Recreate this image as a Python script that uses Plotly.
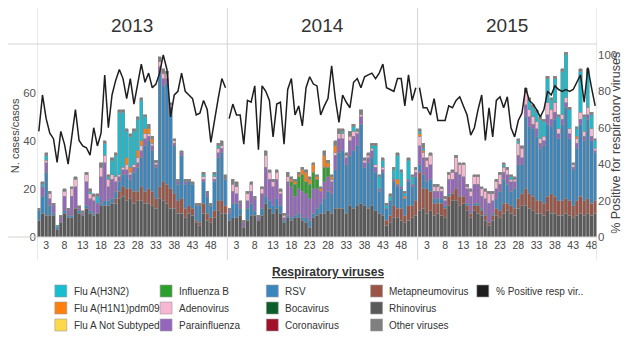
import plotly.graph_objects as go

# ── DATA ──────────────────────────────────────────────────────────────────────
YEARS = ['2013', '2014', '2015']
WEEKS_PER_YEAR = [52, 52, 49]
WEEK_TICKS = [3, 8, 13, 18, 23, 28, 33, 38, 43, 48]

# weekly case counts, 2013 (52) + 2014 (52) + 2015 (49)
rhino = [
    7, 10, 9, 9, 9, 3, 6, 10, 8, 8, 12, 10, 9, 12, 10, 9, 10, 13, 13, 13, 14, 14, 16, 17, 15, 16,
    14, 15, 15, 14, 14, 13, 12, 16, 15, 14, 12, 12, 10, 10, 8, 10, 9, 6, 5, 10, 7, 6, 8, 11, 10, 10,
    7, 8, 8, 9, 4, 7, 9, 9, 7, 9, 14, 12, 10, 12, 10, 6, 8, 7, 8, 8, 7, 6, 4, 8, 9, 10,
    10, 11, 10, 12, 12, 12, 10, 13, 12, 13, 14, 13, 12, 13, 11, 10, 9, 5, 6, 8, 8, 7, 6, 7, 8, 9,
    11, 12, 10, 11, 9, 10, 9, 8, 13, 15, 15, 13, 14, 11, 8, 11, 10, 9, 7, 5, 7, 9, 8, 10, 11,
    10, 9, 12, 13, 13, 12, 11, 10, 10, 9, 11, 10, 10, 9, 9, 10, 9, 8, 9, 10, 9, 10, 9, 10,
]
metapneumo = [
    0] * 21 + [
    2, 3, 4, 5, 4, 5, 4, 6, 5, 6, 6, 4, 5, 8, 8, 8, 6, 5, 6, 4, 3, 3, 1, 1, 4, 3, 2, 3, 4, 5, 3,
] + [0] * 43 + [2, 3, 5, 4, 5, 3, 6, 5, 6] + [
    16, 8, 10, 8, 5, 4, 5, 4, 4, 3, 5, 4, 3, 2, 2, 2, 3, 2, 2, 1, 2, 3, 3, 4, 3,
    3, 3, 4, 5, 7, 6, 6, 5, 5, 5, 6, 8, 7, 6, 6, 6, 6, 5, 6, 7, 6, 6, 5, 5,
]
rsv = [
    4, 7, 18, 4, 1, 1, 0, 1, 1, 1, 0, 1, 0, 1, 1, 1, 0, 1, 2, 2, 2, 3, 4, 5, 6, 4,
    8, 10, 12, 19, 20, 17, 13, 47, 40, 42, 33, 20, 7, 18, 10, 10, 10, 6, 7, 9, 7, 5, 12, 18, 20, 11,
    3, 6, 6, 3, 0, 5, 5, 2, 0, 3, 3, 3, 3, 4, 3, 1, 1, 1, 1, 2, 1, 2, 3, 2, 3, 4,
    6, 8, 8, 16, 23, 24, 20, 21, 24, 25, 33, 16, 19, 20, 16, 9, 18, 5, 6, 10, 9, 8, 7, 10, 8, 10,
    3, 6, 3, 5, 2, 2, 2, 1, 1, 0, 0, 0, 0, 1, 0, 1, 1, 1, 1, 0, 1, 4, 8, 10, 8,
    6, 8, 14, 12, 30, 28, 28, 27, 22, 24, 30, 28, 32, 26, 32, 38, 26, 15, 22, 30, 25, 33, 26, 20,
]
parainfluenza = [
    0, 4, 4, 3, 3, 0, 2, 6, 2, 8, 9, 1, 1, 10, 5, 5, 4, 11, 16, 6, 8, 4, 2, 2, 2, 2,
    2, 2, 3, 3, 2, 2, 1, 3, 3, 2, 1, 1, 1, 1, 1, 0, 0, 0, 0, 1, 1, 0, 1, 2, 2, 0,
    1, 5, 4, 2, 2, 3, 5, 5, 1, 6, 12, 9, 8, 8, 5, 1, 14, 13, 8, 10, 11, 10, 9, 10, 8, 5,
    7, 6, 5, 6, 6, 5, 3, 6, 6, 5, 3, 2, 2, 3, 2, 1, 1, 0, 0, 1, 1, 1, 0, 1, 1, 2,
    8, 7, 6, 6, 3, 3, 3, 2, 6, 6, 7, 9, 8, 6, 7, 8, 8, 5, 6, 8, 5, 4, 3, 3, 4,
    4, 3, 4, 3, 5, 4, 2, 3, 2, 2, 4, 3, 3, 2, 2, 2, 2, 1, 2, 2, 2, 2, 2, 1,
]
adenovirus = [
    0, 0, 1, 2, 0, 0, 0, 2, 0, 3, 3, 0, 0, 3, 2, 2, 0, 4, 3, 3, 2, 2, 1, 1, 2, 1,
    1, 2, 2, 2, 1, 1, 1, 2, 2, 2, 1, 1, 0, 0, 0, 0, 0, 0, 0, 1, 0, 0, 1, 2, 1, 0,
    0, 3, 3, 0, 0, 3, 3, 0, 0, 2, 5, 3, 2, 3, 1, 1, 2, 0, 0, 0, 0, 0, 0, 0, 0, 0,
    0, 0, 1, 1, 2, 2, 1, 2, 2, 1, 1, 1, 1, 1, 1, 0, 1, 0, 0, 0, 0, 0, 0, 0, 0, 1,
    4, 2, 3, 4, 2, 2, 1, 1, 2, 3, 6, 4, 5, 1, 2, 3, 3, 3, 3, 4, 3, 3, 4, 2, 2,
    1, 1, 5, 4, 5, 3, 3, 3, 2, 2, 5, 4, 4, 2, 2, 2, 2, 1, 2, 3, 2, 3, 3, 1,
]
influenza_b = [0] * 52 + [0] * 17 + [2, 5, 5, 7, 5, 6, 7, 4, 0, 6, 4] + [0] * 24 + [0] * 49
h1n1 = (
    [0] * 24 + [3, 2, 0, 3, 2, 2, 2, 2] + [0] * 20
    + [0] * 17 + [1, 1, 1, 2, 4, 2, 3, 1, 1, 5, 2, 1, 3] + [0] * 16 + [2, 0, 1, 0, 0, 0]
    + [1, 1] + [0] * 41 + [1] + [0] * 5
)
not_subtyped = [0] * 153
h3n2 = (
    [0, 1, 2, 0, 0, 1, 0, 0, 0, 0, 0, 0, 0, 0, 1, 0, 3, 0, 5, 1,
     6, 9, 26, 23, 11, 13, 14, 13, 17, 5] + [0] * 15 + [1, 0, 0, 1, 1, 0, 0]
    + [0] * 31 + [1, 0, 0, 2, 0, 0, 0, 0, 1, 8, 5, 3, 1, 2, 4, 10, 6, 1, 8, 3, 0]
    + [1, 1] + [0] * 21 + [1, 0, 1, 0, 1, 0, 0]
    + [4, 4, 4, 8, 6, 10, 4, 10, 5, 18, 18, 8, 0, 3, 17, 6, 15, 6, 3]
)
bocavirus = [0] * 153
coronavirus = [0] * 153
other = (
    [1, 1, 1, 1, 1, 0, 1, 1, 1, 1, 1, 1, 1, 1, 1, 1, 1, 2, 1, 1, 1, 1, 1, 1, 1, 1,
     1, 1, 1, 1, 2, 1, 1, 2, 2, 1, 1, 1, 1, 1, 1, 1, 1, 1, 1, 1, 1, 1, 1, 1, 2, 2]
    + [1, 2, 2, 1, 1, 1, 1, 1, 1, 1, 2, 1, 1, 1, 1, 1, 2, 1, 1, 1, 1, 1, 1, 1, 1, 1,
       2, 1, 1, 2, 2, 1, 1, 2, 1, 1, 2, 1, 1, 1, 1, 1, 1, 1, 1, 1, 1, 1, 1, 1, 1, 1]
    + [1, 2] + [1] * 27 + [2] + [1] * 19
)

# % positive for respiratory viruses (right axis)
pct_2013 = [58, 78, 65, 57, 54, 41, 58, 51, 40, 56, 70, 53, 50, 49, 45, 60, 50, 57, 89, 60,
            78, 86, 92, 87, 76, 87, 73, 84, 95, 85, 90, 82, 84, 90, 100, 92, 66, 78, 80, 90,
            80, 78, 76, 67, 68, 75, 70, 52, 65, 76, 87, 82]
pct_2014 = [65, 73, 67, 67, 51, 75, 74, 83, 48, 83, 80, 75, 55, 73, 74, 51, 81, 87, 67, 72,
            61, 82, 88, 84, 83, 67, 72, 76, 94, 76, 63, 78, 74, 71, 85, 87, 82, 88, 89, 90,
            87, 90, 95, 82, 81, 80, 87, 87, 72, 89, 75, 82]
pct_2015 = [82, 71, 71, 67, 76, 64, 64, 64, 72, 71, 75, 77, 72, 67, 56, 60, 70, 78, 53, 71,
            55, 75, 77, 71, 77, 60, 55, 64, 68, 82, 75, 73, 70, 66, 70, 80, 78, 83, 81, 80,
            81, 80, 81, 85, 89, 74, 93, 82, 72]
PCT = [pct_2013, pct_2014, pct_2015]
PCT_NAME = '% Positive resp vir..'

# legend columns, as laid out under the chart
LEGEND_COLUMNS = [
    ['Flu A(H3N2)', 'Flu A(H1N1)pdm09', 'Flu A Not Subtyped'],
    ['Influenza B', 'Adenovirus', 'Parainfluenza'],
    ['RSV', 'Bocavirus', 'Coronavirus'],
    ['Metapneumovirus', 'Rhinovirus', 'Other viruses'],
    [PCT_NAME],
]

# ── STYLE ─────────────────────────────────────────────────────────────────────
FONT = 'Liberation Sans, Arial, sans-serif'
GRID = '#d4d4d4'
TXT = '#333333'
LINE_COLOR = '#1e1e1e'

# the html page has an 8px body margin, so the figure is shrunk/shifted by it
PAGE_PAD = 8
W, H = 629 - PAGE_PAD, 337 - PAGE_PAD
ML, MR, MT, MB = 37 - PAGE_PAD, 28, 44 - PAGE_PAD, 100
PW, PH = W - ML - MR, H - MT - MB


def px_x(px):
    """screen pixel x -> paper x"""
    return (px - PAGE_PAD - ML) / PW


def px_y(py):
    """screen pixel y -> paper y"""
    return (H - MB - (py - PAGE_PAD)) / PH


# (name, values, colour) -- stack order bottom -> top
SERIES = [
    ('Rhinovirus',         rhino,         '#5a5a5a'),
    ('Metapneumovirus',    metapneumo,    '#9a5546'),
    ('RSV',                rsv,           '#3a87c0'),
    ('Parainfluenza',      parainfluenza, '#9467bd'),
    ('Adenovirus',         adenovirus,    '#f7b6d2'),
    ('Influenza B',        influenza_b,   '#2ca02c'),
    ('Flu A(H1N1)pdm09',   h1n1,          '#ff7f0e'),
    ('Flu A Not Subtyped', not_subtyped,  '#ffd84a'),
    ('Flu A(H3N2)',        h3n2,          '#17becf'),
    ('Bocavirus',          bocavirus,     '#0b5e2a'),
    ('Coronavirus',        coronavirus,   '#a0102a'),
    ('Other viruses',      other,         '#7f7f7f'),
]
COLORS = {name: c for name, _, c in SERIES}
COLORS[PCT_NAME] = LINE_COLOR

# x position of each week on a single continuous axis
offsets = [0, 52, 104]
xs = [off + w for off, n in zip(offsets, WEEKS_PER_YEAR) for w in range(1, n + 1)]

fig = go.Figure()

for name, vals, color in SERIES:
    fig.add_trace(go.Bar(
        x=xs, y=[v if v else None for v in vals], name=name,
        marker=dict(color=color, line=dict(color='#8c8c8c', width=0.6)),
    ))

for off, n, pct in zip(offsets, WEEKS_PER_YEAR, PCT):
    fig.add_trace(go.Scatter(
        x=[off + w for w in range(1, n + 1)], y=pct, yaxis='y2', mode='lines',
        line=dict(color=LINE_COLOR, width=1.5), name=PCT_NAME,
    ))

tickvals = [off + w for off in offsets for w in WEEK_TICKS]
ticktext = [str(w) for _ in offsets for w in WEEK_TICKS]

# ── PANEL FRAME ───────────────────────────────────────────────────────────────
shapes = []
for xv in [0.5, 52.5, 104.5, 153.5]:
    shapes.append(dict(type='line', xref='x', yref='paper', x0=xv, x1=xv,
                       y0=px_y(260), y1=px_y(4), line=dict(color=GRID, width=1)))
for yv in [0, 1]:
    shapes.append(dict(type='line', xref='paper', yref='paper', x0=px_x(5), x1=1,
                       y0=yv, y1=yv, line=dict(color=GRID, width=1)))

annotations = []
for yr, off, n in zip(YEARS, offsets, WEEKS_PER_YEAR):
    annotations.append(dict(text=yr, xref='x', yref='paper', x=off + 0.5 + n / 2, y=px_y(26),
                            xanchor='center', yanchor='middle', showarrow=False,
                            font=dict(family=FONT, size=19, color=TXT)))
annotations += [
    dict(text='N. cases/casos', xref='paper', yref='paper', x=px_x(15), y=px_y(136),
         xanchor='center', yanchor='middle', textangle=-90, showarrow=False,
         font=dict(family=FONT, size=11, color='#444')),
    dict(text='% Positive for respiratory viruses', xref='paper', yref='paper',
         x=px_x(620), y=px_y(143), xanchor='center', yanchor='middle', textangle=-90,
         showarrow=False, font=dict(family=FONT, size=12.5, color='#444')),
]

# ── LEGEND (drawn as a grid, like the source) ────────────────────────────────
LEG_COL_X = [55, 161, 268, 373, 480]
LEG_ROW_Y = [291, 308, 325]
SW = 12
annotations.append(dict(text='<b><u>Respiratory viruses</u></b>', xref='paper', yref='paper',
                        x=px_x(330), y=px_y(272), xanchor='center', yanchor='middle',
                        showarrow=False, font=dict(family=FONT, size=12, color=TXT)))
for cx, names in zip(LEG_COL_X, LEGEND_COLUMNS):
    for cy, name in zip(LEG_ROW_Y, names):
        shapes.append(dict(type='rect', xref='paper', yref='paper',
                           x0=px_x(cx), x1=px_x(cx + SW),
                           y0=px_y(cy + SW / 2), y1=px_y(cy - SW / 2),
                           fillcolor=COLORS[name], line=dict(color='#9a9a9a', width=0.6)))
        annotations.append(dict(text=name, xref='paper', yref='paper',
                                x=px_x(cx + SW + 5), y=px_y(cy), xanchor='left',
                                yanchor='middle', showarrow=False,
                                font=dict(family=FONT, size=10, color=TXT)))

fig.update_layout(
    width=W, height=H,
    margin=dict(l=ML, r=MR, t=MT, b=MB),
    paper_bgcolor='white', plot_bgcolor='white',
    barmode='stack', bargap=0.12, showlegend=False,
    font=dict(family=FONT, color=TXT),
    xaxis=dict(range=[0.5, 153.5], tickvals=tickvals, ticktext=ticktext,
               showgrid=False, zeroline=False, showline=False,
               tickfont=dict(family=FONT, size=10.5, color='#444')),
    yaxis=dict(range=[0, 80.4], tickvals=[0, 20, 40, 60], showgrid=False,
               zeroline=False, tickfont=dict(family=FONT, size=11.5, color='#555')),
    yaxis2=dict(range=[0, 106], tickvals=[0, 20, 40, 60, 80, 100], overlaying='y',
                side='right', showgrid=False, zeroline=False,
                tickfont=dict(family=FONT, size=11.5, color='#555')),
    shapes=shapes, annotations=annotations,
)

fig.write_html('out.html')
